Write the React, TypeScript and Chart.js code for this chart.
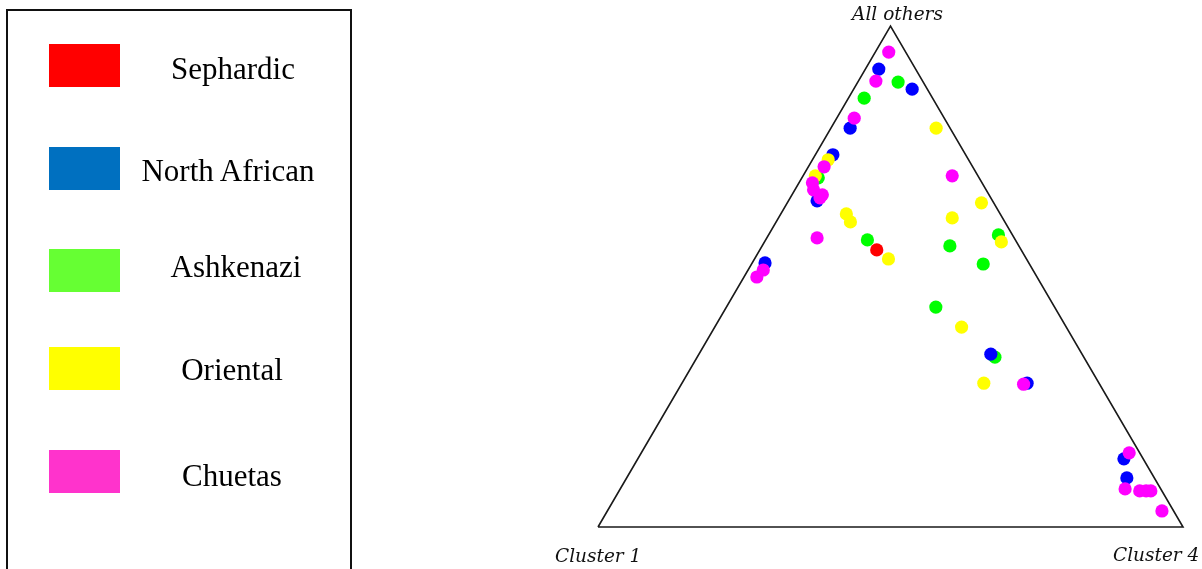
import React, { useEffect, useRef } from "react";
import { Chart, registerables } from "chart.js";

Chart.register(...registerables);

// Ternary plot: each point = [Cluster 1, Cluster 4, All others] proportions
const SERIES_NAMES = ["Sephardic", "North African", "Ashkenazi", "Oriental", "Chuetas"];
const LEGEND_COLORS = ["#ff0000", "#0070c0", "#66ff33", "#ffff00", "#ff33cc"];
const POINT_COLORS = ["#ff0000", "#0000ff", "#00ff00", "#ffff00", "#ff00ff"];
const VERTEX_LABELS = ["Cluster 1", "Cluster 4", "All others"];

const sephardic: number[][] = [[0.247, 0.2, 0.553]];

const northAfrican: number[][] = [
  [0.063, 0.023, 0.914],
  [0.026, 0.1, 0.874],
  [0.171, 0.033, 0.796],
  [0.227, 0.03, 0.743],
  [0.3, 0.049, 0.651],
  [0.451, 0.022, 0.527],
  [0.156, 0.499, 0.345],
  [0.123, 0.59, 0.287],
  [0.033, 0.831, 0.136],
  [0.047, 0.855, 0.098],
];

const ashkenazi: number[][] = [
  [0.043, 0.069, 0.888],
  [0.117, 0.027, 0.856],
  [0.275, 0.028, 0.697],
  [0.253, 0.174, 0.573],
  [0.118, 0.321, 0.561],
  [0.024, 0.393, 0.583],
  [0.079, 0.396, 0.525],
  [0.203, 0.358, 0.439],
  [0.152, 0.509, 0.339],
];

const oriental: number[][] = [
  [0.024, 0.18, 0.796],
  [0.24, 0.027, 0.733],
  [0.278, 0.021, 0.701],
  [0.263, 0.112, 0.625],
  [0.264, 0.127, 0.609],
  [0.236, 0.229, 0.535],
  [0.021, 0.332, 0.647],
  [0.086, 0.297, 0.617],
  [0.026, 0.405, 0.569],
  [0.179, 0.422, 0.399],
  [0.197, 0.516, 0.287],
];

const chuetas: number[][] = [
  [0.029, 0.023, 0.948],
  [0.08, 0.03, 0.89],
  [0.154, 0.03, 0.816],
  [0.254, 0.027, 0.719],
  [0.29, 0.023, 0.687],
  [0.295, 0.032, 0.673],
  [0.285, 0.052, 0.663],
  [0.292, 0.051, 0.657],
  [0.337, 0.086, 0.577],
  [0.461, 0.026, 0.513],
  [0.479, 0.022, 0.499],
  [0.044, 0.255, 0.701],
  [0.13, 0.585, 0.285],
  [0.018, 0.834, 0.148],
  [0.061, 0.863, 0.076],
  [0.038, 0.89, 0.072],
  [0.027, 0.901, 0.072],
  [0.019, 0.909, 0.072],
  [0.02, 0.948, 0.032],
];

const SERIES_DATA = [sephardic, northAfrican, ashkenazi, oriental, chuetas];
// drawing stack: lower "order" is drawn on top
const SERIES_ORDER = [3, 4, 5, 2, 1];

// triangle corners in ternary form: Cluster 1, Cluster 4, All others
const CORNERS: number[][] = [
  [1, 0, 0],
  [0, 1, 0],
  [0, 0, 1],
  [1, 0, 0],
];

function toXY(p: number[]) {
  const s = p[0] + p[1] + p[2];
  const c4 = p[1] / s;
  const a = p[2] / s;
  return { x: c4 + a / 2, y: a };
}

const vertexLabelPlugin = {
  id: "vertexLabels",
  afterDraw(chart: any) {
    const { ctx, scales } = chart;
    const xs = scales.x;
    const ys = scales.y;
    ctx.save();
    ctx.fillStyle = "#111";
    ctx.font = "italic 18.5px 'DejaVu Serif'";
    ctx.textBaseline = "alphabetic";
    ctx.textAlign = "center";
    ctx.fillText(VERTEX_LABELS[2], xs.getPixelForValue(0.5) + 7, ys.getPixelForValue(1) - 6);
    ctx.textAlign = "left";
    ctx.fillText(VERTEX_LABELS[0], xs.getPixelForValue(0) - 43, ys.getPixelForValue(0) + 35);
    ctx.fillText(VERTEX_LABELS[1], xs.getPixelForValue(1) - 70, ys.getPixelForValue(0) + 34);
    ctx.restore();
  },
};

function TernaryChart() {
  const ref = useRef<HTMLCanvasElement | null>(null);
  useEffect(() => {
    if (!ref.current) return;
    const datasets: any[] = [
      {
        label: "triangle",
        data: CORNERS.map(toXY),
        showLine: true,
        borderColor: "#1a1a1a",
        borderWidth: 1.6,
        pointRadius: 0,
        fill: false,
        tension: 0,
        order: 10,
        clip: false,
      },
    ];
    SERIES_NAMES.forEach((name, i) => {
      datasets.push({
        label: name,
        data: SERIES_DATA[i].map(toXY),
        backgroundColor: POINT_COLORS[i],
        borderColor: POINT_COLORS[i],
        borderWidth: 0,
        pointRadius: 6.6,
        pointStyle: "circle",
        showLine: false,
        order: SERIES_ORDER[i],
        clip: false,
      });
    });
    const chart = new Chart(ref.current, {
      type: "scatter",
      data: { datasets },
      options: {
        animation: false,
        responsive: false,
        events: [],
        layout: { padding: { left: 598, right: 19, top: 26, bottom: 42 } },
        scales: {
          x: { type: "linear", min: 0, max: 1, display: false },
          y: { type: "linear", min: 0, max: 1, display: false },
        },
        plugins: {
          legend: { display: false },
          tooltip: { enabled: false },
        },
      },
      plugins: [vertexLabelPlugin],
    });
    return () => chart.destroy();
  }, []);
  return (
    <canvas
      ref={ref}
      width={1202}
      height={569}
      style={{ position: "absolute", left: 0, top: 0, width: 1202, height: 569 }}
    />
  );
}

const SWATCH_TOPS = [44, 147, 249, 347, 450];
const TEXT_TOPS = [53, 155, 251, 354, 460];
const TEXT_CENTERS = [233, 228, 236, 232, 232];

export default function App() {
  return (
    <div
      style={{
        position: "fixed",
        left: 0,
        top: 0,
        width: 1202,
        height: 569,
        background: "#fff",
        overflow: "hidden",
      }}
    >
      <TernaryChart />
      <div
        style={{
          position: "absolute",
          left: 6,
          top: 9,
          width: 346,
          height: 600,
          border: "2px solid #111",
          boxSizing: "border-box",
        }}
      />
      {SERIES_NAMES.map((name, i) => (
        <React.Fragment key={name}>
          <div
            style={{
              position: "absolute",
              left: 49,
              top: SWATCH_TOPS[i],
              width: 71,
              height: 43,
              background: LEGEND_COLORS[i],
            }}
          />
          <div
            style={{
              position: "absolute",
              left: TEXT_CENTERS[i] - 110,
              width: 220,
              top: TEXT_TOPS[i],
              textAlign: "center",
              fontFamily: "'Liberation Serif', serif",
              fontSize: 31,
              lineHeight: "31px",
              color: "#000",
              whiteSpace: "nowrap",
            }}
          >
            {name}
          </div>
        </React.Fragment>
      ))}
    </div>
  );
}
